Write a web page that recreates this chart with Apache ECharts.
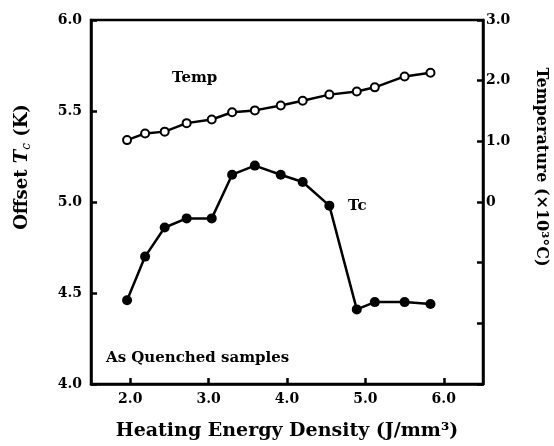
<!DOCTYPE html>
<html>
<head>
<meta charset="utf-8">
<script src="https://cdn.jsdelivr.net/npm/echarts@6/dist/echarts.min.js"></script>
<style>
  html, body { margin: 0; padding: 0; background: #fff; }
  #main { width: 554px; height: 446px; }
</style>
</head>
<body>
<div id="main"></div>
<script type="text/javascript">
    // heating energy density (J/mm3)
    var energy = [1.96, 2.19, 2.44, 2.72, 3.04, 3.30, 3.59, 3.92, 4.20, 4.54, 4.89, 5.12, 5.50, 5.83];
    // offset Tc (K)
    var tcValues = [4.46, 4.70, 4.86, 4.91, 4.91, 5.15, 5.20, 5.15, 5.11, 4.98, 4.41, 4.45, 4.45, 4.44];
    // temperature (x10^3 C)
    var tempValues = [1.02, 1.13, 1.16, 1.30, 1.36, 1.48, 1.51, 1.59, 1.67, 1.77, 1.82, 1.89, 2.07, 2.13];
    var xTicks = [2, 3, 4, 5, 6];

    var FONT = 'DejaVu Serif';

    function pairs(xs, ys) {
        var out = [];
        for (var i = 0; i < xs.length; i++) out.push([xs[i], ys[i]]);
        return out;
    }

    var myChart = echarts.init(document.getElementById('main'));
    var option = {
        animation: false,
        backgroundColor: '#fff',
        grid: {
            left: 91, right: 71, top: 20, bottom: 61,
            show: true, borderColor: '#000', borderWidth: 2.5, backgroundColor: 'transparent'
        },
        xAxis: {
            type: 'value', min: 1.5, max: 6.5,
            name: 'Heating Energy Density (J/mm³)',
            nameLocation: 'middle', nameGap: 38,
            nameTextStyle: {fontFamily: FONT, fontWeight: 'bold', fontSize: 19, color: '#000'},
            axisLine: {onZero: false, lineStyle: {color: '#000', width: 2.5}},
            axisTick: {inside: true, length: 6, lineStyle: {color: '#000', width: 2.5}, customValues: xTicks},
            axisLabel: {
                margin: 8, fontFamily: FONT, fontWeight: 'bold', fontSize: 14, color: '#000',
                customValues: xTicks,
                formatter: function (v) { return v.toFixed(1); }
            },
            splitLine: {show: false}
        },
        yAxis: [{
            type: 'value', min: 4, max: 6, interval: 0.5,
            axisLine: {show: true, onZero: false, lineStyle: {color: '#000', width: 2.5}},
            axisTick: {show: true, inside: true, length: 6, lineStyle: {color: '#000', width: 2.5}},
            axisLabel: {
                margin: 9, fontFamily: FONT, fontWeight: 'bold', fontSize: 14, color: '#000',
                formatter: function (v) { return v.toFixed(1); }
            },
            splitLine: {show: false}
        }, {
            type: 'value', min: -3, max: 3, interval: 1, position: 'right',
            axisLine: {show: true, onZero: false, lineStyle: {color: '#000', width: 2.5}},
            axisTick: {show: true, inside: true, length: 6, lineStyle: {color: '#000', width: 2.5}},
            axisLabel: {
                margin: 3, fontFamily: FONT, fontWeight: 'bold', fontSize: 14, color: '#000',
                formatter: function (v) {
                    if (v < 0) return '';
                    return v === 0 ? '0' : v.toFixed(1);
                }
            },
            splitLine: {show: false}
        }],
        series: [{
            name: 'Tc', type: 'line', yAxisIndex: 0,
            data: pairs(energy, tcValues),
            symbol: 'circle', symbolSize: 10,
            itemStyle: {color: '#000'},
            lineStyle: {color: '#000', width: 2.5}
        }, {
            name: 'Temp', type: 'line', yAxisIndex: 1,
            data: pairs(energy, tempValues),
            symbol: 'circle', symbolSize: 8,
            itemStyle: {color: '#fff', borderColor: '#000', borderWidth: 2},
            lineStyle: {color: '#000', width: 2.5}
        }],
        graphic: [
            // left axis name, reads bottom to top
            {
                type: 'text', x: 22, y: 167, rotation: Math.PI / 2,
                style: {
                    text: '{n|Offset }{t|T}{s|c}{n| (K)}',
                    align: 'center', verticalAlign: 'middle',
                    rich: {
                        n: {fontFamily: FONT, fontWeight: 'bold', fontSize: 18, fill: '#000'},
                        t: {fontFamily: FONT, fontWeight: 'bold', fontStyle: 'italic', fontSize: 18, fill: '#000'},
                        s: {fontFamily: FONT, fontStyle: 'italic', fontSize: 12, fill: '#000', padding: [10, 0, 0, 0]}
                    }
                }
            },
            // right axis name, reads top to bottom
            {
                type: 'text', x: 541, y: 167, rotation: -Math.PI / 2,
                style: {
                    text: 'Temperature (×10³°C)', align: 'center', verticalAlign: 'middle',
                    font: 'bold 16px "DejaVu Serif"', fill: '#000'
                }
            },
            {type: 'text', left: 172, top: 71, style: {text: 'Temp', font: 'bold 15px "DejaVu Serif"', fill: '#000'}},
            {type: 'text', left: 348, top: 199, style: {text: 'Tc', font: 'bold 15px "DejaVu Serif"', fill: '#000'}},
            {type: 'text', left: 106, top: 351, style: {text: 'As Quenched samples', font: 'bold 15px "DejaVu Serif"', fill: '#000'}}
        ]
    };
    myChart.setOption(option);
</script>
</body>
</html>
